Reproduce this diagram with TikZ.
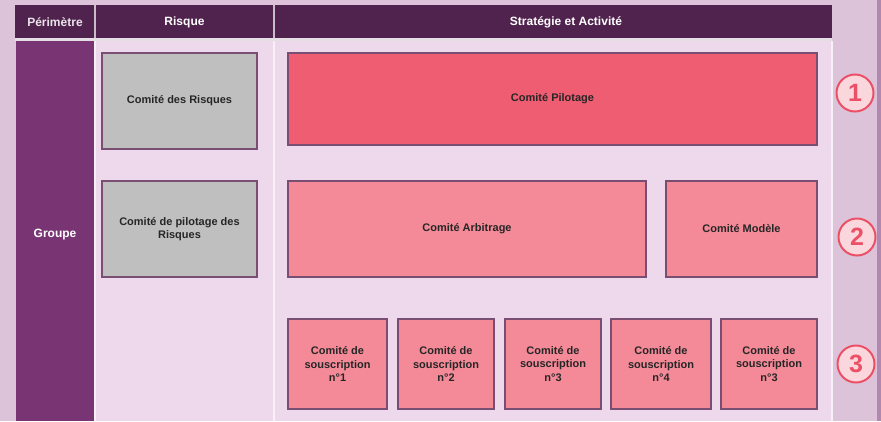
\documentclass[tikz,border=0pt]{standalone}
\usepackage{fontspec}
\setmainfont{Liberation Sans}
\definecolor{bgc}{HTML}{DCC3DA}
\definecolor{edgec}{HTML}{B088B0}
\definecolor{headc}{HTML}{50234E}
\definecolor{grpc}{HTML}{793573}
\definecolor{bodyc}{HTML}{EED9EC}
\definecolor{grayc}{HTML}{BFBFBF}
\definecolor{bordc}{HTML}{7A4D72}
\definecolor{redc}{HTML}{EF5D72}
\definecolor{pinkc}{HTML}{F48A98}
\definecolor{circf}{HTML}{FAD7DC}
\definecolor{circd}{HTML}{EC5067}
\begin{document}
\begin{tikzpicture}[x=1pt,y=-1pt,
  box/.style={draw=bordc,line width=1.4pt,inner sep=0pt,align=center,font=\bfseries\fontsize{11}{13.5}\selectfont,text=black!85},
  headtxt/.style={text=white,font=\bfseries\fontsize{12}{14}\selectfont},
  numc/.style={circle,draw=circd,line width=2pt,fill=circf,minimum size=37pt,inner sep=0pt,text=circd,font=\bfseries\fontsize{25}{27}\selectfont}]
\useasboundingbox (0,0) rectangle (881,421);
\fill[bgc] (0,0) rectangle (881,421);
\fill[edgec] (877,0) rectangle (881,421);
% header
\fill[headc] (15,5) rectangle (832,38);
\fill[white!85!headc] (15,38) rectangle (832,41);
\draw[white!70!headc,line width=1.2pt] (95,5) -- (95,38) (274,5) -- (274,38);
% body
\fill[grpc] (16,41) rectangle (94,421);
\fill[bodyc] (96,41) rectangle (273,421);
\fill[bodyc] (275,41) rectangle (831,421);
\fill[white!60!bodyc] (94,41) rectangle (96,421);
\fill[white!60!bodyc] (273,41) rectangle (275,421);
\fill[white!60!bodyc] (831,41) rectangle (833,421);
\node[headtxt,text=white!88!headc] (hp) at (55,22) {Périmètre};
\node[headtxt] (hr) at (184.5,22) {Risque};
\node[headtxt] (hs) at (566,22) {Stratégie et Activité};
\node[headtxt] (grp) at (55,235) {Groupe};
% risk boxes
\node[box,fill=grayc,minimum width=155pt,minimum height=96pt] (cr) at (179.5,101) {Comité des Risques};
\node[box,fill=grayc,minimum width=155pt,minimum height=96pt] (cpr) at (179.5,229) {Comité de pilotage des\\Risques};
% strategy
\node[box,fill=redc,minimum width=529pt,minimum height=92pt] (cp) at (552.5,99) {Comité Pilotage};
\node[box,fill=pinkc,minimum width=358pt,minimum height=96pt] (ca) at (467,229) {Comité Arbitrage};
\node[box,fill=pinkc,minimum width=151pt,minimum height=96pt] (cm) at (741.5,229) {Comité Modèle};
\node[box,fill=pinkc,minimum width=99pt,minimum height=90pt] (s1) at (337.5,364) {Comité de\\souscription\\n°1};
\node[box,fill=pinkc,minimum width=96pt,minimum height=90pt] (s2) at (446,364) {Comité de\\souscription\\n°2};
\node[box,fill=pinkc,minimum width=96pt,minimum height=90pt] (s3) at (553,364) {Comité de\\souscription\\n°3};
\node[box,fill=pinkc,minimum width=100pt,minimum height=90pt] (s4) at (661,364) {Comité de\\souscription\\n°4};
\node[box,fill=pinkc,minimum width=96pt,minimum height=90pt] (s5) at (769,364) {Comité de\\souscription\\n°3};
% numbers
\node[numc] (n1) at (855,93) {1};
\node[numc] (n2) at (857,237) {2};
\node[numc] (n3) at (856,364) {3};
\end{tikzpicture}
\end{document}
